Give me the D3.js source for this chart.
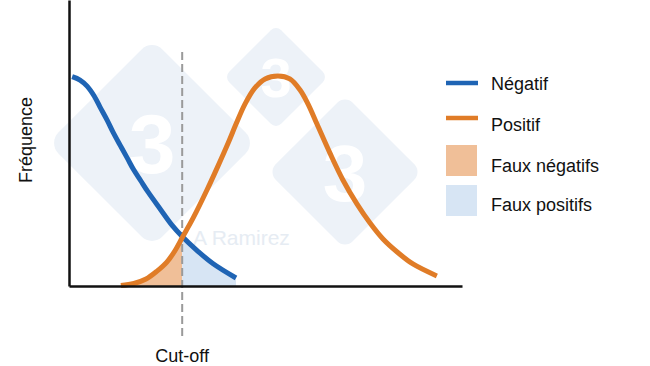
<!DOCTYPE html>
<html>
<head>
<meta charset="utf-8">
<script src="https://cdn.jsdelivr.net/npm/d3@7"></script>
<style>
  html, body { margin: 0; padding: 0; background: #ffffff; }
  svg { display: block; }
  text { font-family: "Liberation Sans", Arial, Helvetica, sans-serif; }
</style>
</head>
<body>
<svg id="chart" width="650" height="366"></svg>
<script>
// ---- Data ----
// x: test value (0..100 along the axis), y: relative frequency (peak = 100)
const negX = [0.8, 2.8, 4.6, 6.4, 7.9, 9.7, 11.2, 13.0, 14.8, 16.5, 18.3, 20.1, 23.2, 26.2, 28.8, 32.6, 36.6, 42.5];
const negY = [99.7, 98.1, 95.2, 90.5, 85.2, 79.0, 73.3, 67.1, 61.0, 55.2, 50.0, 44.8, 36.7, 29.0, 23.6, 16.9, 10.7, 3.8];
const posX = [13.2, 16.5, 19.6, 22.4, 24.9, 27.0, 28.9, 31.6, 35.1, 37.9, 40.5, 42.5, 44.8, 47.3, 49.9, 53.2, 56.2, 58.8, 60.8, 63.1, 66.4, 69.7, 73.3, 76.6, 79.9, 83.5, 87.5, 93.6];
const posY = [0.2, 1.2, 3.3, 7.1, 11.4, 16.9, 23.3, 32.4, 45.7, 57.1, 68.1, 77.1, 86.7, 94.3, 98.6, 100.0, 98.6, 93.3, 86.7, 77.1, 63.3, 50.5, 39.0, 30.0, 22.4, 16.2, 10.5, 4.8];
const cutoff = 28.8;
const seriesNames = ["Négatif", "Positif"];
const areaNames = ["Faux négatifs", "Faux positifs"];
const yLabel = "Fréquence";
const cutoffLabel = "Cut-off";
const watermarkText = "A Ramirez";

// ---- Styles ----
const blue = "#1f64b4", orange = "#e07c27";
const blueFill = "#d7e5f4", orangeFill = "#f0bf98";
const wmFill = "#edf2f8";

const svg = d3.select("#chart");

const x = d3.scaleLinear().domain([0, 100]).range([69, 462]);
const y = d3.scaleLinear().domain([0, 136.2]).range([286, 0]);

// ---- Watermark (drawn behind) ----
const wm = svg.append("g");
const diamonds = [
  {cx: 152, cy: 143, h: 104, fs: 84},
  {cx: 276, cy: 77, h: 52, fs: 56},
  {cx: 345, cy: 172, h: 77, fs: 80}
];
diamonds.forEach(d => {
  const s = d.h * Math.SQRT2;
  wm.append("rect")
    .attr("x", -s / 2).attr("y", -s / 2)
    .attr("width", s).attr("height", s)
    .attr("rx", s * 0.1)
    .attr("fill", wmFill)
    .attr("transform", `translate(${d.cx},${d.cy}) rotate(45)`);
  wm.append("text")
    .attr("x", d.cx).attr("y", d.cy + d.fs * 0.36)
    .attr("text-anchor", "middle")
    .attr("font-size", d.fs).attr("font-weight", "bold")
    .attr("fill", "#ffffff")
    .text("3");
});
wm.append("text")
  .attr("x", 193).attr("y", 245)
  .attr("font-size", 21)
  .attr("fill", "#e6ecf3")
  .text(watermarkText);

// ---- Areas ----
const negData = negX.map((v, i) => ({x: v, y: negY[i]}));
const posData = posX.map((v, i) => ({x: v, y: posY[i]}));

const curve = d3.curveCatmullRom.alpha(0.5);
const area = d3.area().curve(curve)
  .x(d => x(d.x)).y0(y(0)).y1(d => y(d.y));
const line = d3.line().curve(curve)
  .x(d => x(d.x)).y(d => y(d.y));

const defs = svg.append("defs");
defs.append("clipPath").attr("id", "leftClip")
  .append("rect").attr("x", 0).attr("y", 0)
  .attr("width", x(cutoff)).attr("height", 366);
defs.append("clipPath").attr("id", "rightClip")
  .append("rect").attr("x", x(cutoff)).attr("y", 0)
  .attr("width", 650 - x(cutoff)).attr("height", 366);

svg.append("path").datum(posData)
  .attr("d", area).attr("fill", orangeFill)
  .attr("clip-path", "url(#leftClip)");
svg.append("path").datum(negData)
  .attr("d", area).attr("fill", blueFill)
  .attr("clip-path", "url(#rightClip)");

// ---- Cut-off dashed line ----
svg.append("line")
  .attr("x1", x(cutoff)).attr("x2", x(cutoff))
  .attr("y1", 52).attr("y2", 340)
  .attr("stroke", "#9a9a9a").attr("stroke-width", 2)
  .attr("stroke-dasharray", "8,4");

// ---- Curves ----
svg.append("path").datum(negData)
  .attr("d", line).attr("fill", "none")
  .attr("stroke", blue).attr("stroke-width", 5);
svg.append("path").datum(posData)
  .attr("d", line).attr("fill", "none")
  .attr("stroke", orange).attr("stroke-width", 5);

// ---- Axes (no ticks) ----
const xAxis = d3.axisBottom(x).tickValues([]).tickSizeOuter(0);
const yAxis = d3.axisLeft(y).tickValues([]).tickSizeOuter(0);
svg.append("g").attr("transform", `translate(0,${y(0)})`).call(xAxis)
  .select(".domain").attr("stroke", "#111").attr("stroke-width", 2.5);
svg.append("g").attr("transform", `translate(${x(0)},0)`).call(yAxis)
  .select(".domain").attr("stroke", "#111").attr("stroke-width", 2.5);

// ---- Labels ----
svg.append("text")
  .attr("transform", "translate(32,140) rotate(-90)")
  .attr("text-anchor", "middle")
  .attr("font-size", 18).attr("fill", "#111")
  .text(yLabel);
svg.append("text")
  .attr("x", x(cutoff)).attr("y", 362)
  .attr("text-anchor", "middle")
  .attr("font-size", 18).attr("fill", "#111")
  .text(cutoffLabel);

// ---- Legend ----
const lg = svg.append("g");
const lineRows = [
  {name: seriesNames[0], color: blue, ly: 83, ty: 89.5},
  {name: seriesNames[1], color: orange, ly: 118, ty: 130.5}
];
lineRows.forEach(r => {
  lg.append("line").attr("x1", 446).attr("x2", 478)
    .attr("y1", r.ly).attr("y2", r.ly)
    .attr("stroke", r.color).attr("stroke-width", 4.5);
  lg.append("text").attr("x", 491).attr("y", r.ty)
    .attr("font-size", 18).attr("fill", "#111").text(r.name);
});
const boxRows = [
  {name: areaNames[0], color: orangeFill, by: 145, ty: 171.5},
  {name: areaNames[1], color: blueFill, by: 185, ty: 211}
];
boxRows.forEach(r => {
  lg.append("rect").attr("x", 446).attr("y", r.by)
    .attr("width", 31).attr("height", 31)
    .attr("fill", r.color);
  lg.append("text").attr("x", 491).attr("y", r.ty)
    .attr("font-size", 18).attr("fill", "#111").text(r.name);
});
</script>
</body>
</html>
